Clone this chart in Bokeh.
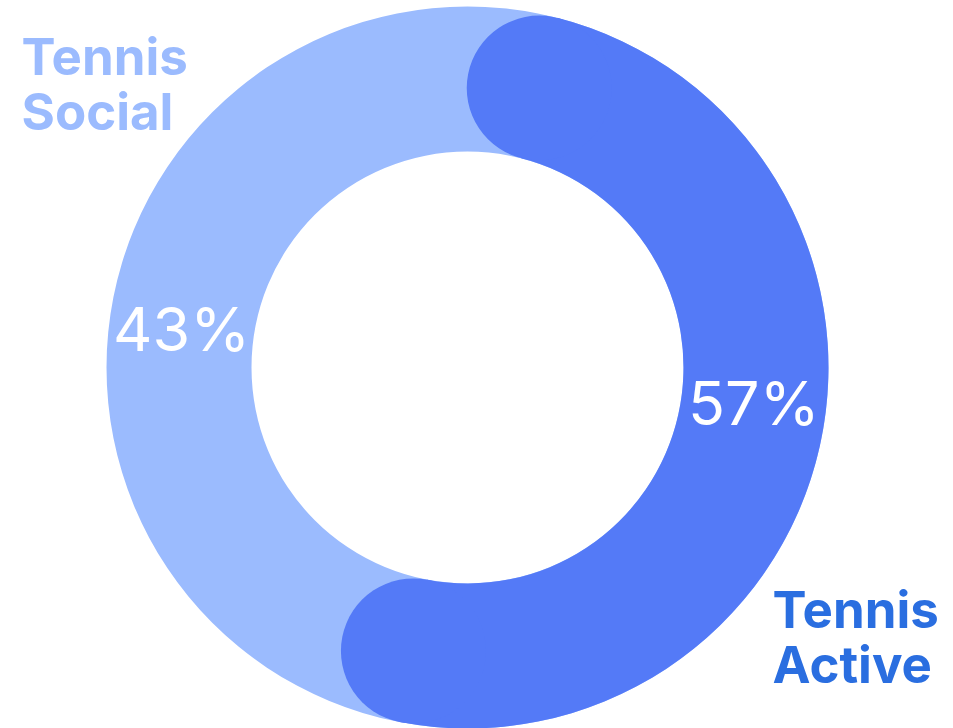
import math
from bokeh.plotting import figure
from bokeh.models import Range1d
from bokeh.core.properties import value
from bokeh.embed import file_html
from bokeh.resources import INLINE

# ---- data ----
categories = ["Tennis Active", "Tennis Social"]
values = [57, 43]
pct_labels = ["57%", "43%"]

# ---- style / geometry ----
W, H = 953, 728
CX, CY = 467, 728 - 367
R_OUT, R_IN = 361, 216
COL_ACTIVE = "#547AF7"
COL_SOCIAL = "#9BBBFE"
COL_ACTIVE_TXT = "#2A6EE0"
FONT = "Inter"

p = figure(width=W, height=H, output_backend="svg", toolbar_location=None,
           x_range=Range1d(0, W), y_range=Range1d(0, H), min_border=0)
p.axis.visible = False
p.grid.visible = False
p.outline_line_color = None
p.background_fill_color = "white"
p.border_fill_color = "white"

total = sum(values)
span_active = 360.0 * values[0] / total  # clockwise degrees from top
mid_r = (R_OUT + R_IN) / 2
cap_r = (R_OUT - R_IN) / 2
cap_deg = math.degrees(cap_r / mid_r)

def bk(theta):  # clockwise-from-top degrees -> bokeh radians
    return math.radians(90 - theta)

# light full ring underneath
p.annulus(x=[CX], y=[CY], inner_radius=R_IN, outer_radius=R_OUT,
          fill_color=COL_SOCIAL, line_color=None)

# active arc with rounded ends
t0 = cap_deg
t1 = span_active - cap_deg
p.annular_wedge(x=[CX], y=[CY], inner_radius=R_IN, outer_radius=R_OUT,
                start_angle=bk(t1), end_angle=bk(t0), direction="anticlock",
                fill_color=COL_ACTIVE, line_color=None)
cx = [CX + mid_r * math.sin(math.radians(t)) for t in (t0, t1)]
cy = [CY + mid_r * math.cos(math.radians(t)) for t in (t0, t1)]
p.circle(x=cx, y=cy, radius=cap_r, fill_color=COL_ACTIVE, line_color=None)

# percentage labels
mids = [span_active / 2 - 5.5, span_active + (360 - span_active) / 2 - 5]
lx = [CX + mid_r * math.sin(math.radians(m)) for m in mids]
ly = [CY + mid_r * math.cos(math.radians(m)) for m in mids]
p.text(x=lx, y=ly, text=pct_labels, text_align="center", text_baseline="middle",
       text_font=value(FONT), text_font_size="61px", text_color="white")

# category labels
soc = categories[1].split(" ")
p.text(x=[21, 21], y=[H - 56, H - 111], text=soc, text_align="left",
       text_baseline="alphabetic", text_font=value(FONT), text_font_style="bold",
       text_font_size="51px", text_color=COL_SOCIAL)
act = categories[0].split(" ")
p.text(x=[772, 772], y=[H - 609, H - 664], text=act, text_align="left",
       text_baseline="alphabetic", text_font=value(FONT), text_font_style="bold",
       text_font_size="51px", text_color=COL_ACTIVE_TXT)

open("out.html", "w").write(file_html(p, INLINE))
